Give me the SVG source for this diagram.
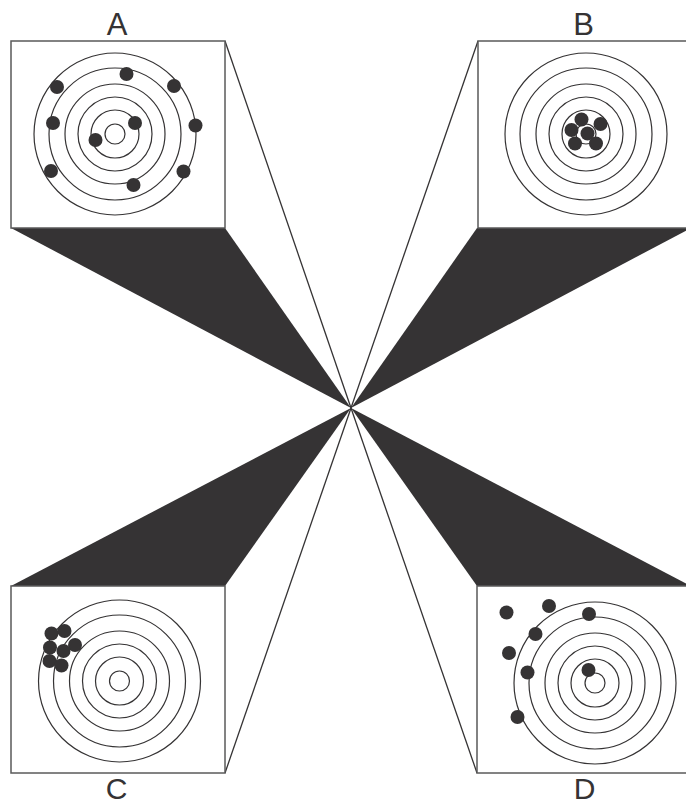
<svg xmlns="http://www.w3.org/2000/svg" width="686" height="805" viewBox="0 0 686 805">
<style>
.wedge{fill:#353334;stroke:none}
.ray{stroke:#353334;stroke-width:1.3;fill:none}
.box{fill:#fff;stroke:#5a5a5a;stroke-width:1.5}
.ring{fill:none;stroke:#353334;stroke-width:1.2}
.dot{fill:#353334}
.lbl{font-family:"Liberation Sans",Arial,sans-serif;font-size:31px;fill:#353334;text-anchor:middle}
.lbl2{font-size:30px}
</style>
<defs>
<g id="target">
<circle class="ring" r="81"/>
<circle class="ring" r="66"/>
<circle class="ring" r="50"/>
<circle class="ring" r="37"/>
<circle class="ring" r="24"/>
<circle class="ring" r="10"/>
</g>
</defs>
<rect width="686" height="805" fill="#fff"/>
<g id="connectors">
<polygon class="wedge" points="11,228 225,228 351,408"/>
<polygon class="wedge" points="477,228 691,228 351,408"/>
<polygon class="wedge" points="11,586 225,586 351,408"/>
<polygon class="wedge" points="477,586 691,586 351,408"/>
<line class="ray" x1="225" y1="41" x2="351" y2="408"/>
<line class="ray" x1="478" y1="41" x2="351" y2="408"/>
<line class="ray" x1="225" y1="773" x2="351" y2="408"/>
<line class="ray" x1="477" y1="773" x2="351" y2="408"/>
</g>
<g id="panelA">
<rect class="box" x="11" y="41" width="214" height="187"/>
<use href="#target" x="115" y="134"/>
<circle class="dot" cx="57" cy="87" r="7"/>
<circle class="dot" cx="126.5" cy="74" r="7"/>
<circle class="dot" cx="174" cy="86" r="7"/>
<circle class="dot" cx="53" cy="123" r="7"/>
<circle class="dot" cx="135" cy="123" r="7"/>
<circle class="dot" cx="195.5" cy="125.5" r="7"/>
<circle class="dot" cx="95.5" cy="140" r="7"/>
<circle class="dot" cx="51" cy="171" r="7"/>
<circle class="dot" cx="183.5" cy="171.5" r="7"/>
<circle class="dot" cx="133.5" cy="185" r="7"/>
<text class="lbl" x="117" y="34.5">A</text>
</g>
<g id="panelB">
<rect class="box" x="478" y="41" width="213" height="187"/>
<use href="#target" x="586" y="134"/>
<circle class="dot" cx="581.5" cy="119.5" r="7"/>
<circle class="dot" cx="600.5" cy="124" r="7"/>
<circle class="dot" cx="571.5" cy="130" r="7"/>
<circle class="dot" cx="587.5" cy="133.5" r="7"/>
<circle class="dot" cx="575" cy="143.5" r="7"/>
<circle class="dot" cx="596" cy="143.5" r="7"/>
<text class="lbl" x="583.5" y="34.5">B</text>
</g>
<g id="panelC">
<rect class="box" x="11" y="586" width="214" height="187"/>
<use href="#target" x="119.5" y="681"/>
<circle class="dot" cx="51.5" cy="633.5" r="7"/>
<circle class="dot" cx="64.5" cy="631" r="7"/>
<circle class="dot" cx="50" cy="647.5" r="7"/>
<circle class="dot" cx="75" cy="645" r="7"/>
<circle class="dot" cx="63.5" cy="651" r="7"/>
<circle class="dot" cx="49.5" cy="661" r="7"/>
<circle class="dot" cx="61.5" cy="665.5" r="7"/>
<text class="lbl lbl2" x="116.5" y="798.5">C</text>
</g>
<g id="panelD">
<rect class="box" x="477" y="586" width="214" height="187"/>
<use href="#target" x="595" y="683"/>
<circle class="dot" cx="506.5" cy="612.5" r="7"/>
<circle class="dot" cx="549" cy="606" r="7"/>
<circle class="dot" cx="589" cy="614" r="7"/>
<circle class="dot" cx="535.5" cy="634" r="7"/>
<circle class="dot" cx="509" cy="653" r="7"/>
<circle class="dot" cx="527.5" cy="672.5" r="7"/>
<circle class="dot" cx="588.5" cy="670" r="7"/>
<circle class="dot" cx="517.5" cy="717" r="7"/>
<text class="lbl lbl2" x="584.5" y="798.5">D</text>
</g>
</svg>
